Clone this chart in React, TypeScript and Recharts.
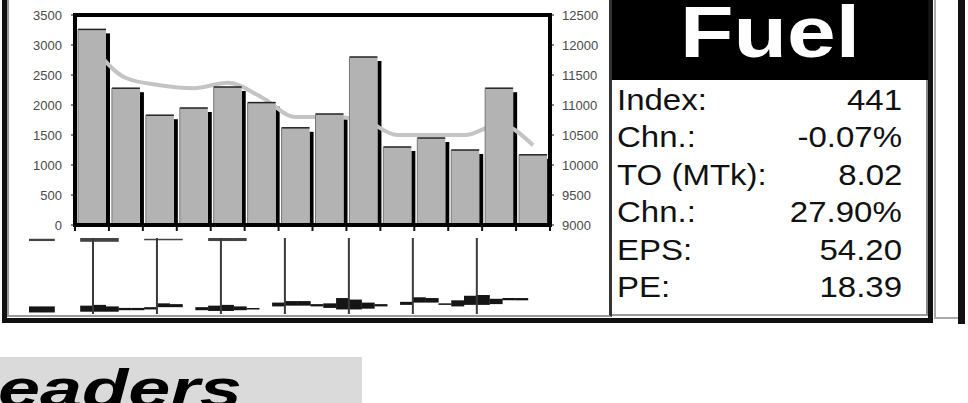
import React from "react";
import { ComposedChart, Bar, Line, XAxis, YAxis, ReferenceLine } from "recharts";

// main chart: turnover bars (left axis) and index line (right axis)
const periods = ["P1", "P2", "P3", "P4", "P5", "P6", "P7", "P8", "P9", "P10", "P11", "P12", "P13", "P14"];
const turnover = [3260, 2280, 1830, 1950, 2300, 2040, 1620, 1850, 2800, 1300, 1450, 1250, 2280, 1170];
const indexLevel = [12000, 11450, 11330, 11280, 11370, 11130, 10800, 10800, 10750, 10500, 10500, 10500, 10680, 10330];
const leftTicks = [0, 500, 1000, 1500, 2000, 2500, 3000, 3500];
const rightTicks = [9000, 9500, 10000, 10500, 11000, 11500, 12000, 12500];

// mini daily strip under the chart
const days = Array.from({ length: 39 }, (_, i) => `D${i + 1}`);
const volLow = [2, 2, null, null, 3, 3, 3, 5, 5, 6, 9, 9, null, 5, 4, 4, 5, 6, null, 10, 11, 11, 10, 8, 6, 6, 7, 10, null, 12, 15, 15, 12, 10, 12, 12, 13, 18, 18];
const volHigh = [10, 10, null, null, 11, 12, 10, 8, 8, 9, 14, 13, null, 9, 11, 12, 10, 8, null, 15, 17, 17, 13, 14, 21, 19, 15, 13, null, 16, 22, 21, 14, 18, 24, 25, 20, 21, 21];
const highLow = [96, 96, null, null, 95, 95, 95, null, null, 97, 97, 97, null, null, 96, 96, 96, null, null, null, null, null, null, null, null, null, null, null, null, null, null, null, null, null, null, null, null, null, null];
const highHigh = [99, 99, null, null, 100, 100, 100, null, null, 99, 99, 99, null, null, 100, 100, 100, null, null, null, null, null, null, null, null, null, null, null, null, null, null, null, null, null, null, null, null, null, null];
const weekStarts = ["D6", "D11", "D16", "D21", "D26", "D31", "D36"];

// side panel
const panelTitle = "Fuel";
const statLabels = ["Index:", "Chn.:", "TO (MTk):", "Chn.:", "EPS:", "PE:"];
const statValues = ["441", "-0.07%", "8.02", "27.90%", "54.20", "18.39"];
const footerText = "eaders";

const data = periods.map((p, i) => ({ period: p, turnover: turnover[i], index: indexLevel[i] }));
const miniData = days.map((d, i) => ({
  day: d,
  vol: volLow[i] == null ? null : [volLow[i], volHigh[i]],
  high: highLow[i] == null ? null : [highLow[i], highHigh[i]],
}));

const axisFont = { fontFamily: "'Liberation Sans', Arial, sans-serif", fontSize: 13, fill: "#4a4a4a" };

const GrayBar = (props: any) => {
  const { x, y, width, height } = props;
  if (!height || height <= 0) return null;
  return (
    <g>
      <rect x={x} y={y} width={width} height={height} fill="#b3b3b3" />
      <line x1={x} y1={y} x2={x + width} y2={y} stroke="#222" strokeWidth={1.5} />
      <line x1={x} y1={y} x2={x} y2={y + height} stroke="#777" strokeWidth={1} />
    </g>
  );
};

const ShadowBar = (props: any) => {
  const { x, y, width, height } = props;
  if (!height || height <= 4) return null;
  return <rect x={x + width} y={y + 4} width={4} height={height - 4} fill="#000" />;
};

const BoundaryTick = (props: any) => {
  const { x, y, payload, index } = props;
  const off = payload && payload.offset ? payload.offset : 17;
  return (
    <g>
      <line x1={x - off} y1={y} x2={x - off} y2={y + 6} stroke="#111" strokeWidth={2} />
      {index === periods.length - 1 && (
        <line x1={x + off} y1={y} x2={x + off} y2={y + 6} stroke="#111" strokeWidth={2} />
      )}
    </g>
  );
};

const frameLine = { stroke: "#000", strokeWidth: 4, strokeLinecap: "square" as const };

function App() {
  return (
    <div style={{ position: "fixed", left: 0, top: 0, width: 968, height: 403, background: "#fff", overflow: "hidden" }}>
      {/* panel frames */}
      <div style={{ position: "absolute", left: 2, top: -10, width: 931, height: 333, border: "5px solid #111", boxSizing: "border-box" }} />
      <div style={{ position: "absolute", left: 7, top: -10, width: 605, height: 327, borderLeft: "2px solid #999", borderBottom: "2px solid #999", borderRight: "3px solid #333", boxSizing: "border-box" }} />
      <div style={{ position: "absolute", left: 612, top: -10, width: 316, height: 326, borderBottom: "2px solid #999", borderRight: "2px solid #888", boxSizing: "border-box" }} />
      <div style={{ position: "absolute", left: 934, top: 0, width: 2, height: 319, background: "#aaa" }} />
      <div style={{ position: "absolute", left: 934, top: 317, width: 24, height: 2, background: "#aaa" }} />
      <div style={{ position: "absolute", left: 958, top: 0, width: 7, height: 324, background: "#111" }} />

      {/* main chart */}
      <div style={{ position: "absolute", left: 0, top: 0 }}>
        <ComposedChart width={612} height={236} data={data} margin={{ top: 15, right: 5, bottom: 5, left: 0 }} barCategoryGap={3}>
          <XAxis xAxisId="top" dataKey="period" orientation="top" height={0} tick={false} tickLine={false} axisLine={frameLine} />
          <XAxis xAxisId="bottom" dataKey="period" height={6} tickSize={0} tickMargin={0} tickLine={false} axisLine={frameLine} tick={<BoundaryTick />} interval={0} />
          <YAxis yAxisId="left" domain={[0, 3500]} ticks={leftTicks} interval={0} width={75} tickSize={4} tickMargin={9} axisLine={frameLine} tickLine={{ stroke: "#111" }} tick={axisFont} />
          <YAxis yAxisId="right" orientation="right" domain={[9000, 12500]} ticks={rightTicks} interval={0} width={57} tickSize={4} tickMargin={8} axisLine={frameLine} tickLine={{ stroke: "#111" }} tick={{ ...axisFont, textAnchor: "start" }} />
          <Bar xAxisId="top" yAxisId="left" dataKey="turnover" shape={<ShadowBar />} isAnimationActive={false} zIndex={250} />
          <Line xAxisId="top" yAxisId="right" dataKey="index" type="monotone" stroke="#c4c4c4" strokeWidth={4} dot={false} activeDot={false} isAnimationActive={false} zIndex={260} />
          <Bar xAxisId="bottom" yAxisId="left" dataKey="turnover" shape={<GrayBar />} isAnimationActive={false} zIndex={300} />
          <ReferenceLine xAxisId="bottom" yAxisId="left" y={leftTicks[leftTicks.length - 1]} stroke="#000" strokeWidth={4} strokeLinecap="square" />
        </ComposedChart>
      </div>

      {/* mini strip */}
      <div style={{ position: "absolute", left: 0, top: 236 }}>
        <ComposedChart width={560} height={80} data={miniData} margin={{ top: 2, right: 32, bottom: 2, left: 29 }} barCategoryGap={0}>
          <XAxis xAxisId="a" dataKey="day" hide />
          <XAxis xAxisId="b" dataKey="day" hide />
          <YAxis domain={[0, 100]} hide />
          {weekStarts.map((d) => (
            <ReferenceLine key={d} xAxisId="a" x={d} position="start" stroke="#3a3a3a" strokeWidth={2} />
          ))}
          <Bar xAxisId="a" dataKey="vol" fill="#151515" isAnimationActive={false} />
          <Bar xAxisId="b" dataKey="high" fill="#444" isAnimationActive={false} />
        </ComposedChart>
      </div>

      {/* side panel */}
      <div style={{ position: "absolute", left: 612, top: 0, width: 316, height: 80, background: "#000" }}>
        <div style={{ position: "absolute", left: 0, right: 0, top: 0, textAlign: "center", color: "#fff", fontFamily: "'Liberation Sans', Arial, sans-serif", fontWeight: 700, fontSize: 73, lineHeight: "64px" }}>
          <span style={{ display: "inline-block", transform: "scaleX(1.2)" }}>{panelTitle}</span>
        </div>
      </div>
      <div style={{ position: "absolute", left: 617, top: 81, width: 285, fontFamily: "'Liberation Sans', Arial, sans-serif", fontSize: 30, lineHeight: "37.4px", color: "#111" }}>
        {statLabels.map((l, i) => (
          <div key={i} style={{ display: "flex", justifyContent: "space-between" }}>
            <span style={{ display: "inline-block", transform: "scaleX(1.1)", transformOrigin: "left" }}>{l}</span>
            <span style={{ display: "inline-block", transform: "scaleX(1.1)", transformOrigin: "right" }}>{statValues[i]}</span>
          </div>
        ))}
      </div>

      {/* footer heading */}
      <div style={{ position: "absolute", left: 0, top: 357, width: 362, height: 46, background: "#dadada", overflow: "hidden" }}>
        <div style={{ position: "absolute", left: -2, top: 4, fontFamily: "'Liberation Sans', Arial, sans-serif", fontWeight: 700, fontStyle: "italic", fontSize: 54, lineHeight: "54px", color: "#000", whiteSpace: "nowrap" }}>
          <span style={{ display: "inline-block", transform: "scaleX(1.4)", transformOrigin: "left" }}>{footerText}</span>
        </div>
      </div>
    </div>
  );
}

export default App;
